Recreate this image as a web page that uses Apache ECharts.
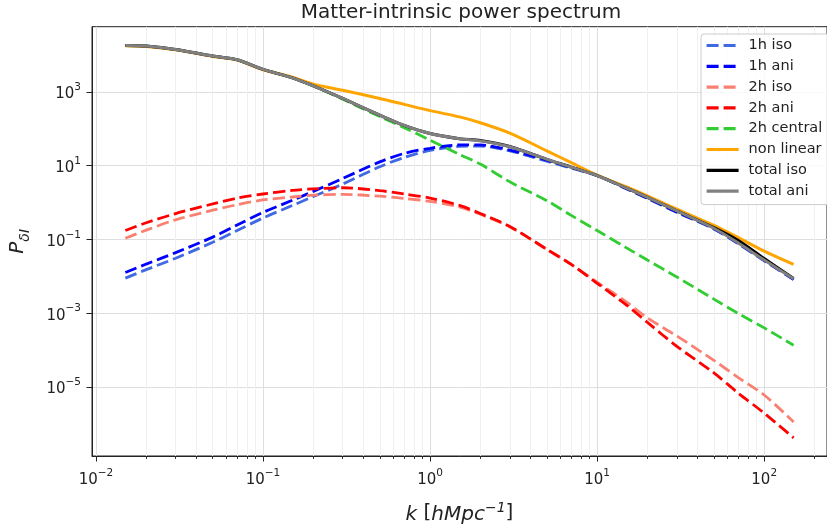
<!DOCTYPE html>
<html>
<head>
<meta charset="utf-8">
<script src="https://cdn.jsdelivr.net/npm/echarts@6/dist/echarts.min.js"></script>
<style>
  html, body { margin: 0; padding: 0; background: #ffffff; }
  #chart { width: 827px; height: 530px; }
</style>
</head>
<body>
<div id="chart"></div>
<script>
// ---- data ----
const k = [0.015, 0.02, 0.03, 0.05, 0.07, 0.1, 0.15, 0.2, 0.3, 0.5, 0.7, 1, 1.5, 2, 3, 5, 7, 10, 15, 20, 30, 50, 70, 100, 150];

const oneHaloIso = [8.91e-3, 1.51e-2, 3.09e-2, 8.32e-2, 0.174, 0.380, 0.832, 1.45, 3.16, 9.33, 16.6, 25.7, 33.1, 33.9, 25.1, 13.2, 8.51, 5.37, 2.34, 1.29, 0.537, 0.191, 0.0759, 0.0263, 8.13e-3];
const oneHaloAni = [1.26e-2, 2.14e-2, 4.37e-2, 0.115, 0.245, 0.537, 1.15, 2.00, 4.47, 12.6, 21.4, 29.5, 36.3, 36.3, 26.3, 14.1, 8.91, 5.50, 2.40, 1.32, 0.550, 0.195, 0.0776, 0.0269, 8.32e-3];
const twoHaloIso = [0.107, 0.178, 0.339, 0.617, 0.871, 1.17, 1.41, 1.58, 1.66, 1.48, 1.29, 1.07, 0.759, 0.479, 0.219, 0.0537, 0.0209, 6.92e-3, 2.00e-3, 7.41e-4, 2.40e-4, 5.25e-5, 1.78e-5, 6.03e-6, 1.12e-6];
const twoHaloAni = [0.174, 0.282, 0.501, 0.912, 1.32, 1.70, 2.14, 2.34, 2.51, 2.09, 1.70, 1.32, 0.832, 0.501, 0.224, 0.0537, 0.0209, 6.46e-3, 1.66e-3, 5.62e-4, 1.26e-4, 2.40e-5, 6.76e-6, 1.95e-6, 4.17e-7];
const twoHaloCentral = [18100, 17400, 14100, 9330, 7410, 4050, 2400, 1450, 631, 214, 107, 49.0, 20.0, 11.0, 3.63, 1.12, 0.447, 0.174, 0.0589, 0.0275, 9.55e-3, 2.40e-3, 9.77e-4, 3.98e-4, 1.35e-4];
const nonLinear = [17800, 17000, 13800, 9120, 7240, 3980, 2510, 1620, 1100, 661, 457, 309, 209, 145, 75.9, 25.1, 12.0, 5.50, 2.63, 1.51, 0.661, 0.240, 0.112, 0.0479, 0.0209];
const totalIso = [18100, 17400, 14100, 9330, 7410, 4050, 2400, 1450, 661, 234, 123, 74.1, 53.7, 47.9, 33.1, 14.8, 9.12, 5.37, 2.45, 1.38, 0.589, 0.209, 0.0933, 0.0302, 8.71e-3];
const totalAni = [18100, 17400, 14100, 9330, 7410, 4050, 2400, 1450, 661, 234, 123, 74.1, 53.7, 46.8, 32.4, 14.8, 9.12, 5.37, 2.45, 1.38, 0.589, 0.200, 0.0794, 0.0275, 8.51e-3];

const seriesNames = ['1h iso', '1h ani', '2h iso', '2h ani', '2h central', 'non linear', 'total iso', 'total ani'];
const xTickValues = [0.01, 0.1, 1, 10, 100];
const yTickValues = [1e-5, 1e-3, 1e-1, 1e1, 1e3];
const titleText = 'Matter-intrinsic power spectrum';

// ---- styling / layout ----
const FONT = 'DejaVu Sans';
const TXT = '#222222';
const xMin = Math.pow(10, -2.0236), xMax = Math.pow(10, 2.376);
const yMin = Math.pow(10, -6.873), yMax = Math.pow(10, 4.766);

const xMinorTicks = [];
for (let e = -3; e <= 2; e++) {
  for (let m = 2; m <= 9; m++) {
    const v = m * Math.pow(10, e);
    if (v > xMin && v < xMax) xMinorTicks.push(v);
  }
}

function powLabel(v) {
  const e = Math.round(Math.log10(v));
  return '{b|10}{sup|' + (e < 0 ? '\u2212' + (-e) : String(e)) + '}';
}
const labelRich = {
  b: { fontFamily: FONT, fontSize: 15, lineHeight: 20, verticalAlign: 'bottom', color: TXT },
  sup: { fontFamily: FONT, fontSize: 10.5, lineHeight: 11, verticalAlign: 'top', color: TXT }
};

const styles = [
  { data: oneHaloIso, color: '#4169e1', dashed: true },
  { data: oneHaloAni, color: '#0000ff', dashed: true },
  { data: twoHaloIso, color: '#fa8072', dashed: true },
  { data: twoHaloAni, color: '#ff0000', dashed: true },
  { data: twoHaloCentral, color: '#32cd32', dashed: true },
  { data: nonLinear, color: '#ffa500', dashed: false },
  { data: totalIso, color: '#000000', dashed: false },
  { data: totalAni, color: '#808080', dashed: false }
];

const series = styles.map((s, i) => ({
  name: seriesNames[i],
  type: 'line',
  xAxisIndex: 0,
  yAxisIndex: 0,
  data: k.map((x, j) => [x, s.data[j]]),
  symbol: 'none',
  showSymbol: false,
  smooth: 0.3,
  color: s.color,
  lineStyle: { color: s.color, width: s.dashed ? 2.8 : 3, type: s.dashed ? [12, 5] : 'solid', cap: 'butt' },
  itemStyle: { color: s.color },
  emphasis: { disabled: true },
  silent: true,
  z: 2 + i
}));

const chart = echarts.init(document.getElementById('chart'), null, { renderer: 'canvas' });
chart.setOption({
  animation: false,
  backgroundColor: '#ffffff',
  title: {
    text: titleText,
    left: 461,
    textAlign: 'center',
    top: 1,
    padding: 0,
    textStyle: { fontFamily: FONT, fontSize: 20, fontWeight: 'normal', color: TXT, lineHeight: 24 }
  },
  grid: {
    left: 90, top: 26.7, width: 746.5, height: 435,
    show: true, borderColor: '#222222', borderWidth: 1, backgroundColor: 'transparent',
    containLabel: false
  },
  legend: {
    orient: 'vertical',
    left: 701, top: 34,
    padding: [4, 10, 6, 4],
    itemGap: 5.8,
    itemWidth: 32,
    itemHeight: 14,
    selectedMode: false,
    backgroundColor: 'rgba(255,255,255,0.85)',
    borderColor: '#cccccc',
    borderWidth: 1,
    borderRadius: 3,
    data: seriesNames,
    itemStyle: { opacity: 0 },
    lineStyle: { width: 3.2 },
    textStyle: { fontFamily: FONT, fontSize: 14.5, color: TXT, lineHeight: 14, padding: [0, 0, 0, 5] }
  },
  xAxis: [
    {
      type: 'log', logBase: 10, min: xMin, max: xMax, position: 'bottom',
      name: '{i|k} [{i|hMpc}{sup|\u22121}]',
      nameLocation: 'middle', nameGap: 45,
      nameTextStyle: {
        rich: {
          i: { fontFamily: FONT, fontStyle: 'italic', fontSize: 20, lineHeight: 24, verticalAlign: 'bottom', color: TXT },
          sup: { fontFamily: FONT, fontStyle: 'italic', fontSize: 14, lineHeight: 14, verticalAlign: 'top', color: TXT }
        },
        fontFamily: FONT, fontSize: 20, lineHeight: 24, color: TXT
      },
      axisLine: { show: true, onZero: false, lineStyle: { color: '#222222', width: 1 } },
      axisTick: { show: true, inside: false, length: 5.5, customValues: xTickValues, lineStyle: { color: '#222222', width: 1 } },
      axisLabel: { show: true, margin: 12, customValues: xTickValues, formatter: powLabel, rich: labelRich, color: TXT, fontFamily: FONT, fontSize: 15 },
      splitLine: { show: true, lineStyle: { color: '#dedede', width: 1 } },
      minorTick: { show: false },
      minorSplitLine: { show: false }
    },
    {
      type: 'log', logBase: 10, min: xMin, max: xMax, position: 'bottom', gridIndex: 0,
      axisLine: { show: false },
      axisTick: { show: true, inside: false, length: 3, customValues: xMinorTicks, lineStyle: { color: '#222222', width: 0.9 } },
      axisLabel: { show: false },
      splitLine: { show: true, lineStyle: { color: '#f0f0f0', width: 1 } }
    }
  ],
  yAxis: {
    type: 'log', logBase: 10, min: yMin, max: yMax, position: 'left',
    name: '{i|P}{sub|\u03b4I}',
    nameLocation: 'middle', nameRotate: 90, nameGap: 60,
    nameTextStyle: {
      rich: {
        i: { fontFamily: FONT, fontStyle: 'italic', fontSize: 20, lineHeight: 24, verticalAlign: 'top', color: TXT },
        sub: { fontFamily: FONT, fontStyle: 'italic', fontSize: 14, lineHeight: 14, verticalAlign: 'bottom', color: TXT }
      },
      fontFamily: FONT, fontSize: 20, color: TXT
    },
    axisLine: { show: true, onZero: false, lineStyle: { color: '#222222', width: 1 } },
    axisTick: { show: true, inside: false, length: 5.5, customValues: yTickValues, lineStyle: { color: '#222222', width: 1 } },
    axisLabel: { show: true, margin: 11, customValues: yTickValues, formatter: powLabel, rich: labelRich, color: TXT, fontFamily: FONT, fontSize: 15 },
    splitLine: { show: true, lineStyle: { color: '#dedede', width: 1 } },
    minorTick: { show: false },
    minorSplitLine: { show: false }
  },
  series: series
});
</script>
</body>
</html>
